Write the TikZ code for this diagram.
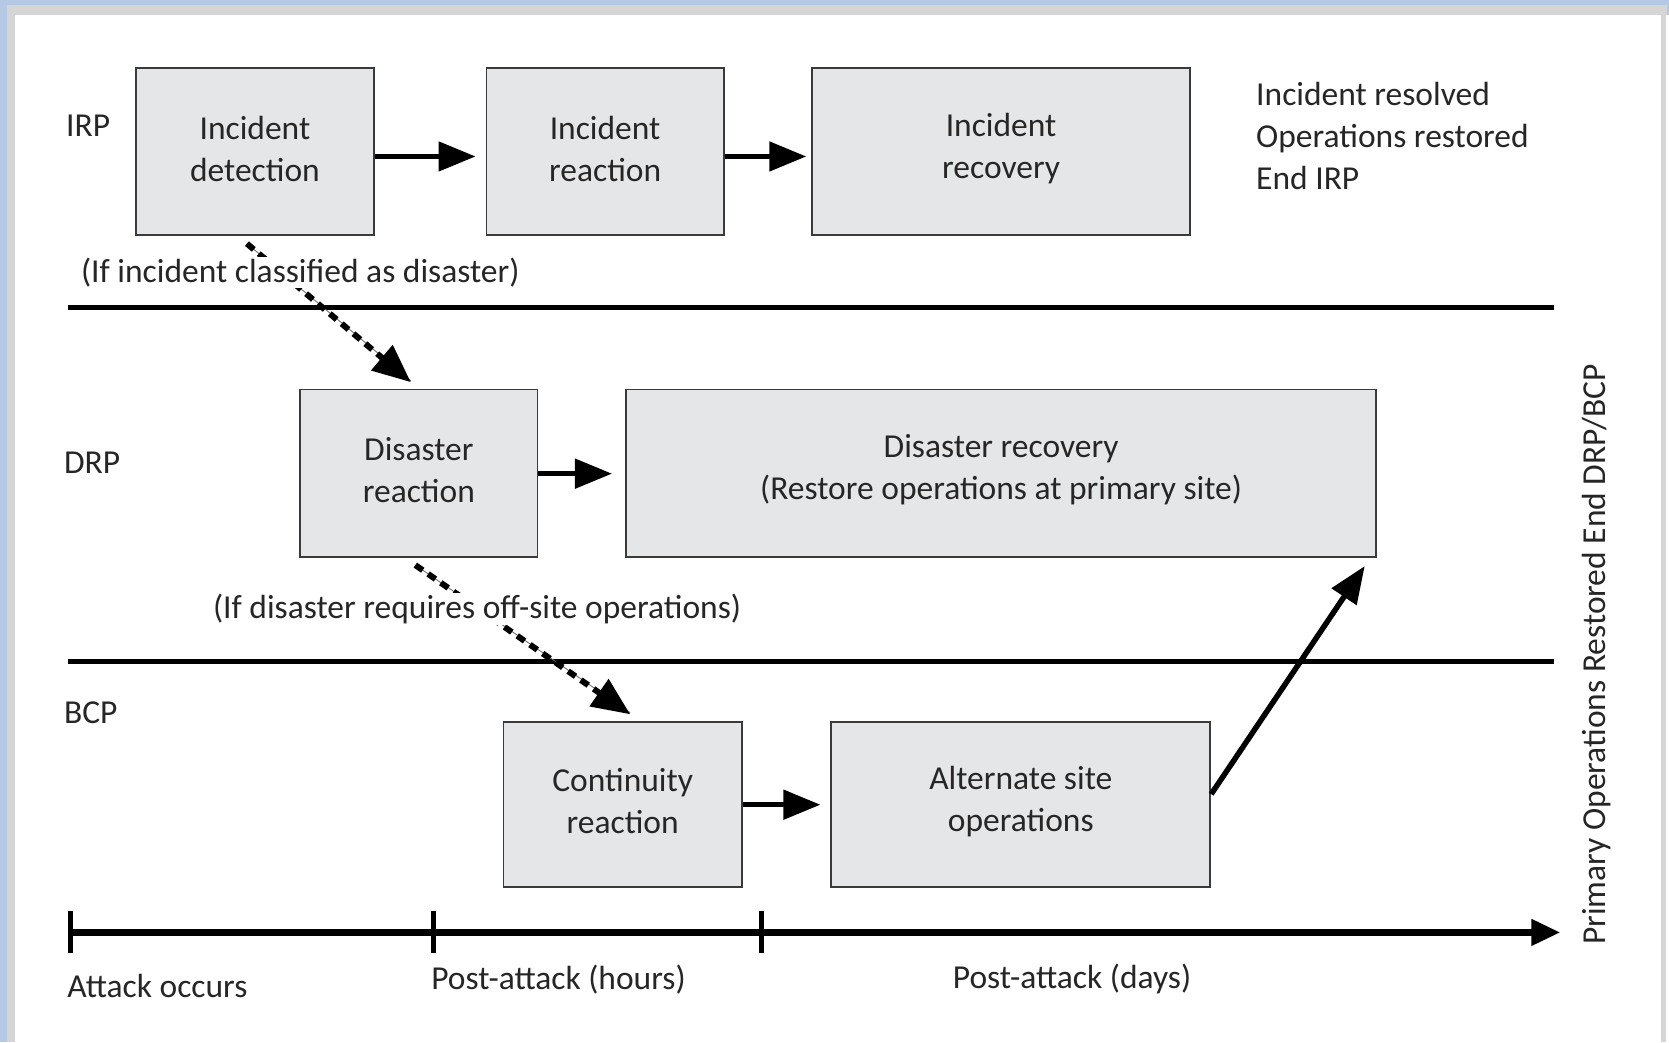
\documentclass[tikz,border=0pt]{standalone}
\usepackage{fontspec}
\setmainfont{Carlito}
\usetikzlibrary{arrows.meta,fit}
\definecolor{framebg}{HTML}{B5C9E4}
\definecolor{framegray}{HTML}{D5D5D5}
\definecolor{boxfill}{HTML}{E5E6E8}
\definecolor{boxline}{HTML}{3A3A3A}
\definecolor{ink}{HTML}{262626}
\tikzset{
  txt/.style={font=\fontsize{33.5}{42}\selectfont, text=ink, inner sep=0pt},
  stagebox/.style={draw=boxline, fill=boxfill, line width=1.8pt, inner sep=0pt},
  boxtext/.style={txt, align=center, yshift=3pt},
  flow/.style={line width=5pt, -{Triangle[length=37pt,width=29pt]}},
  escalate/.style={line width=6pt, dash pattern=on 9pt off 6.5pt,
    -{Triangle[length=38pt,width=32pt]}},
  divider/.style={line width=5pt},
  note/.style={txt, fill=white, inner ysep=1pt}
}
\begin{document}
\begin{tikzpicture}[x=1.0644pt,y=-1.0644pt]
% page frame
\useasboundingbox (0,0) rectangle (1568,979);
\fill[framebg] (0,0) rectangle (1568,979);
\fill[framegray] (7,4.3) rectangle (1566,979);
\fill[white!95!framegray] (1565,14) rectangle (1568,979);
\fill[white] (14,14) rectangle (1560,979);

% lane labels
\node[txt, anchor=west] (irp) at (62,118) {IRP};
\node[txt, anchor=west] (drp) at (60,435) {DRP};
\node[txt, anchor=west] (bcp) at (60,670) {BCP};

% IRP lane
\node[stagebox, fit={(128,64) (351,221)},
  label={[boxtext]center:{Incident\\detection}}] (det) {};
\node[stagebox, fit={(457,64) (680,221)},
  label={[boxtext]center:{Incident\\reaction}}] (irx) {};
\node[stagebox, fit={(763,64) (1118,221)},
  label={[boxtext]center:{Incident\\recovery}}] (irc) {};
\node[txt, anchor=west, align=left] (endirp) at (1180,128)
  {Incident resolved\\Operations restored\\End IRP};

% DRP lane
\node[stagebox, fit={(282,366) (505,523)},
  label={[boxtext]center:{Disaster\\reaction}}] (drx) {};
\node[stagebox, fit={(588,366) (1293,523)},
  label={[boxtext]center:{Disaster recovery\\(Restore operations at primary site)}}] (drc) {};

% BCP lane
\node[stagebox, fit={(473,678) (697,833)},
  label={[boxtext]center:{Continuity\\reaction}}] (crx) {};
\node[stagebox, fit={(781,678) (1137,833)},
  label={[boxtext]center:{Alternate site\\operations}}] (alt) {};

% lane dividers
\coordinate (d1a) at (64,289); \coordinate (d1b) at (1460,289);
\coordinate (d2a) at (64,621); \coordinate (d2b) at (1460,621);
\draw[divider] (d1a) -- (d1b);
\draw[divider] (d2a) -- (d2b);

% main flow
\draw[flow] (det.east |- 0,147) -- ([xshift=-10pt]irx.west |- 0,147);
\draw[flow] (irx.east |- 0,147) -- ([xshift=-5pt]irc.west |- 0,147);
\draw[flow] (drx.east |- 0,445) -- ([xshift=-13pt]drc.west |- 0,445);
\draw[flow] (crx.east |- 0,756) -- ([xshift=-10pt]alt.west |- 0,756);
\draw[flow, line width=5.5pt] ([yshift=10pt]alt.east) -- ([shift={(-12.5pt,-8.5pt)}]drc.south east);

% escalation paths
\draw[ink!70, line width=0.8pt] ([shift={(-8pt,-7.5pt)}]det.south) -- ([shift={(-8pt,8pt)}]drx.north);
\draw[escalate] ([shift={(-8pt,-7.5pt)}]det.south) -- ([shift={(-8pt,6.5pt)}]drx.north);
\draw[ink!70, line width=0.8pt] ([shift={(-3.5pt,-7.5pt)}]drx.south) -- ([shift={(7.5pt,8pt)}]crx.north);
\draw[escalate] ([shift={(-3.5pt,-7.5pt)}]drx.south) -- ([shift={(7.5pt,6.5pt)}]crx.north);
\node[note, anchor=west] (cond1) at (76,256) {(If incident classified as disaster)};
\node[note, anchor=west] (cond2) at (200,572) {(If disaster requires off-site operations)};

% time axis
\coordinate (t0) at (66,876);
\coordinate (t1) at (407,876);
\coordinate (t2) at (715,876);
\coordinate (tend) at (1466,876);
\draw[line width=7pt, -{Triangle[length=29pt,width=25pt]}] (t0) -- (tend);
\foreach \p in {t0,t1,t2}
  \draw[line width=5pt] ([yshift=21pt]\p) -- ([yshift=-21pt]\p);
\node[txt, anchor=west] (lab0) at (63,926) {Attack occurs};
\node[txt, anchor=west] (lab1) at (405,920) {Post-attack (hours)};
\node[txt, anchor=west] (lab2) at (895,920) {Post-attack (days)};

% end marker
\node[txt, rotate=90] (enddrp) at (1500,615) {Primary Operations Restored End DRP/BCP};
\end{tikzpicture}
\end{document}
